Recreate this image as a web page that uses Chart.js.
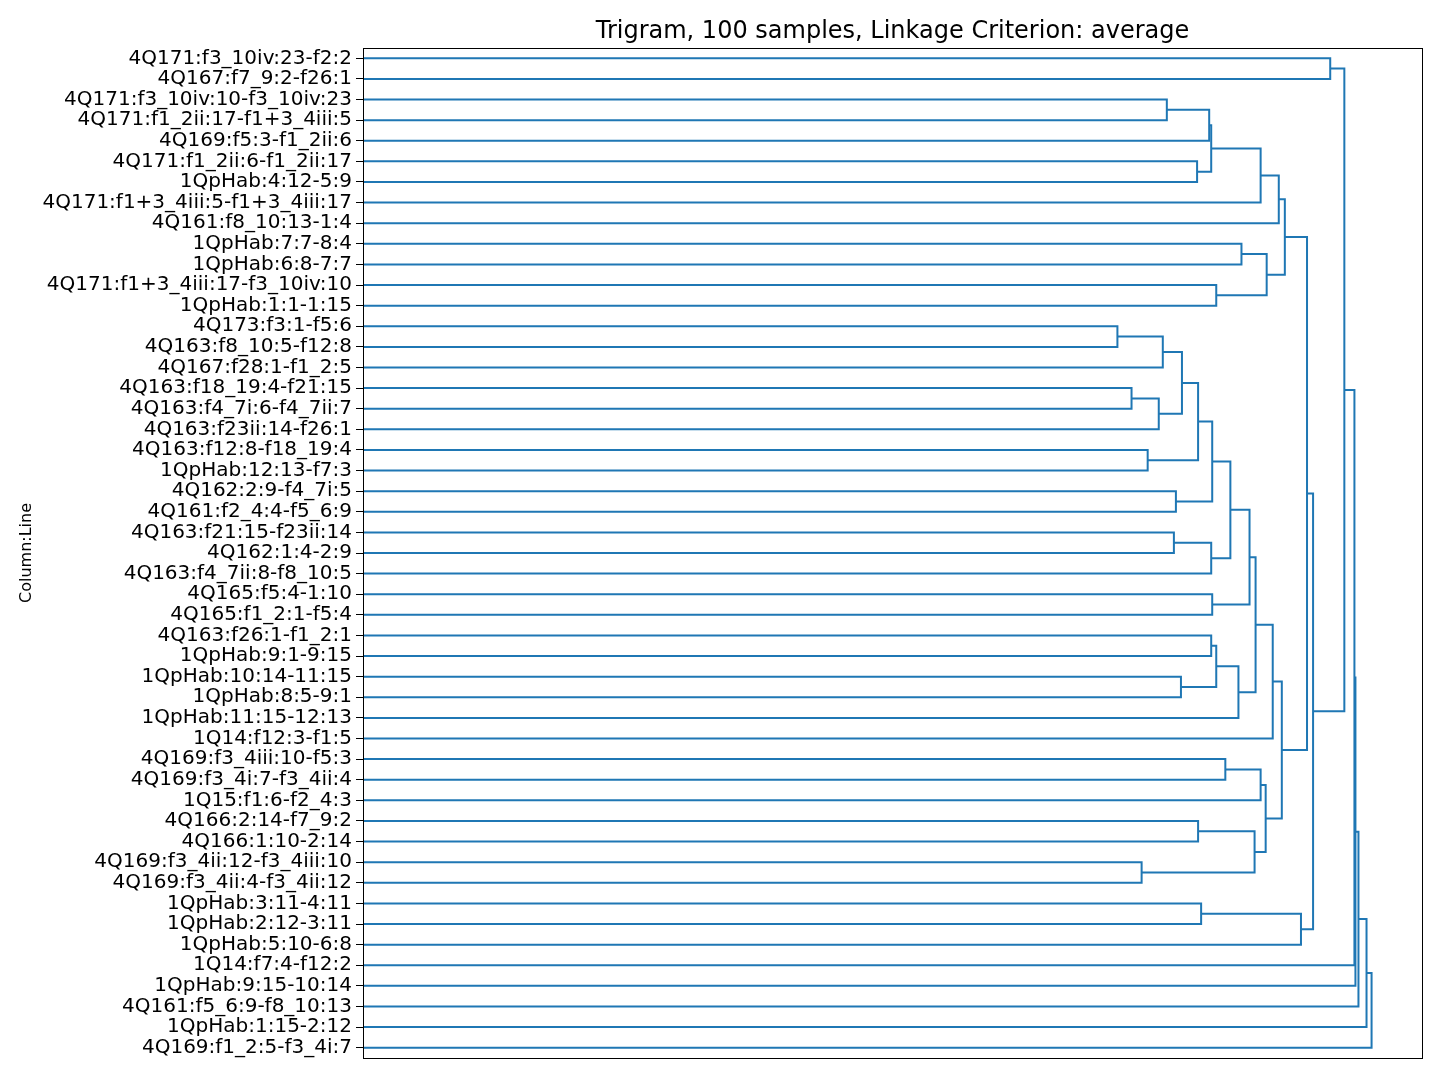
<!DOCTYPE html>
<html>
<head>
<meta charset="utf-8">
<script src="https://cdn.jsdelivr.net/npm/chart.js@4"></script>
<style>
  html, body { margin: 0; padding: 0; background: #fff; }
  #wrap { width: 1440px; height: 1080px; }
</style>
</head>
<body>
<div id="wrap"><canvas id="dendro"></canvas></div>
<script>
// Feuilles, de haut en bas
const leafLabels = [
    '4Q171:f3_10iv:23-f2:2', '4Q167:f7_9:2-f26:1', '4Q171:f3_10iv:10-f3_10iv:23',
    '4Q171:f1_2ii:17-f1+3_4iii:5', '4Q169:f5:3-f1_2ii:6', '4Q171:f1_2ii:6-f1_2ii:17',
    '1QpHab:4:12-5:9', '4Q171:f1+3_4iii:5-f1+3_4iii:17', '4Q161:f8_10:13-1:4',
    '1QpHab:7:7-8:4', '1QpHab:6:8-7:7', '4Q171:f1+3_4iii:17-f3_10iv:10',
    '1QpHab:1:1-1:15', '4Q173:f3:1-f5:6', '4Q163:f8_10:5-f12:8',
    '4Q167:f28:1-f1_2:5', '4Q163:f18_19:4-f21:15', '4Q163:f4_7i:6-f4_7ii:7',
    '4Q163:f23ii:14-f26:1', '4Q163:f12:8-f18_19:4', '1QpHab:12:13-f7:3',
    '4Q162:2:9-f4_7i:5', '4Q161:f2_4:4-f5_6:9', '4Q163:f21:15-f23ii:14',
    '4Q162:1:4-2:9', '4Q163:f4_7ii:8-f8_10:5', '4Q165:f5:4-1:10',
    '4Q165:f1_2:1-f5:4', '4Q163:f26:1-f1_2:1', '1QpHab:9:1-9:15',
    '1QpHab:10:14-11:15', '1QpHab:8:5-9:1', '1QpHab:11:15-12:13',
    '1Q14:f12:3-f1:5', '4Q169:f3_4iii:10-f5:3', '4Q169:f3_4i:7-f3_4ii:4',
    '1Q15:f1:6-f2_4:3', '4Q166:2:14-f7_9:2', '4Q166:1:10-2:14',
    '4Q169:f3_4ii:12-f3_4iii:10', '4Q169:f3_4ii:4-f3_4ii:12', '1QpHab:3:11-4:11',
    '1QpHab:2:12-3:11', '1QpHab:5:10-6:8', '1Q14:f7:4-f12:2',
    '1QpHab:9:15-10:14', '4Q161:f5_6:9-f8_10:13', '1QpHab:1:15-2:12',
    '4Q169:f1_2:5-f3_4i:7'
];

// Fusions : enfant A, enfant B (feuille 0..48 ou cluster 49+k)
const mergeLeft = [0, 2, 50, 5, 51, 53, 54, 9, 11, 56, 55,
    13, 60, 16, 62, 61, 19, 64, 21, 66, 23, 69, 68, 26, 71, 28, 30, 74, 76, 73, 78,
    34, 80, 37, 39, 82, 81, 79, 59, 41, 88, 87, 49, 91, 92, 93, 94, 95];
const mergeRight = [1, 3, 4, 6, 52, 7, 8, 10, 12, 57, 58,
    14, 15, 17, 18, 63, 20, 65, 22, 67, 24, 25, 70, 27, 72, 29, 31, 75, 32, 77, 33,
    35, 36, 38, 40, 83, 84, 85, 86, 42, 43, 89, 90, 44, 45, 46, 47, 48];
const mergeHeight = [0.959, 0.797, 0.839, 0.827, 0.841, 0.890, 0.908, 0.871, 0.846, 0.896, 0.914,
    0.748, 0.793, 0.762, 0.789, 0.812, 0.778, 0.828, 0.806, 0.842, 0.804, 0.841, 0.860, 0.842, 0.879,
    0.841, 0.811, 0.846, 0.868, 0.885, 0.902,
    0.855, 0.890, 0.828, 0.772, 0.884, 0.895, 0.911, 0.936, 0.831, 0.930, 0.942,
    0.973, 0.983, 0.984, 0.987, 0.995, 1.000];

const nLeaves = leafLabels.length;
const nodeY = [];
const nodeH = [];
for (let i = 0; i < nLeaves; i++) { nodeY.push(i); nodeH.push(0); }

const datasets = [];
mergeHeight.forEach((h, k) => {
    const a = mergeLeft[k], b = mergeRight[k];
    datasets.push({
        data: [
            { x: nodeH[a], y: nodeY[a] },
            { x: h, y: nodeY[a] },
            { x: h, y: nodeY[b] },
            { x: nodeH[b], y: nodeY[b] }
        ],
        showLine: true,
        borderColor: '#1f77b4',
        borderWidth: 2,
        pointRadius: 0,
        fill: false,
        tension: 0
    });
    nodeY.push((nodeY[a] + nodeY[b]) / 2);
    nodeH.push(h);
});

// Cadre, titre et libellé de l'axe Y
const decor = {
    id: 'decor',
    afterDraw(chart) {
        const { ctx, chartArea: ca } = chart;
        ctx.save();
        ctx.strokeStyle = '#000';
        ctx.lineWidth = 1;
        ctx.strokeRect(ca.left + 0.5, ca.top + 0.5, ca.right - ca.left, ca.bottom - ca.top);
        ctx.fillStyle = '#000';
        ctx.font = '24px "DejaVu Sans"';
        ctx.textAlign = 'center';
        ctx.textBaseline = 'alphabetic';
        ctx.fillText('Trigram, 100 samples, Linkage Criterion: average', (ca.left + ca.right) / 2, 38);
        ctx.translate(31, (ca.top + ca.bottom) / 2);
        ctx.rotate(-Math.PI / 2);
        ctx.font = '16px "DejaVu Sans"';
        ctx.fillText('Column:Line', 0, 0);
        ctx.restore();
    }
};

new Chart(document.getElementById('dendro'), {
    type: 'scatter',
    data: { datasets: datasets },
    options: {
        responsive: true,
        maintainAspectRatio: false,
        animation: false,
        layout: { padding: { left: 0, right: 18, top: 48, bottom: 14 } },
        plugins: { legend: { display: false }, tooltip: { enabled: false } },
        scales: {
            x: {
                type: 'linear',
                min: 0,
                max: 1.05,
                ticks: { display: false },
                grid: { display: false },
                border: { display: false }
            },
            y: {
                type: 'linear',
                reverse: true,
                min: -0.5,
                max: nLeaves - 0.5,
                afterBuildTicks: scale => {
                    scale.ticks = leafLabels.map((_, i) => ({ value: i }));
                },
                afterFit: scale => { scale.width = 363; },
                ticks: {
                    autoSkip: false,
                    padding: 4,
                    color: '#000',
                    font: { family: 'DejaVu Sans', size: 20 },
                    callback: v => leafLabels[v]
                },
                grid: { drawOnChartArea: false, drawTicks: true, tickLength: 7, color: '#000' },
                border: { display: false }
            }
        }
    },
    plugins: [decor]
});
</script>
</body>
</html>
